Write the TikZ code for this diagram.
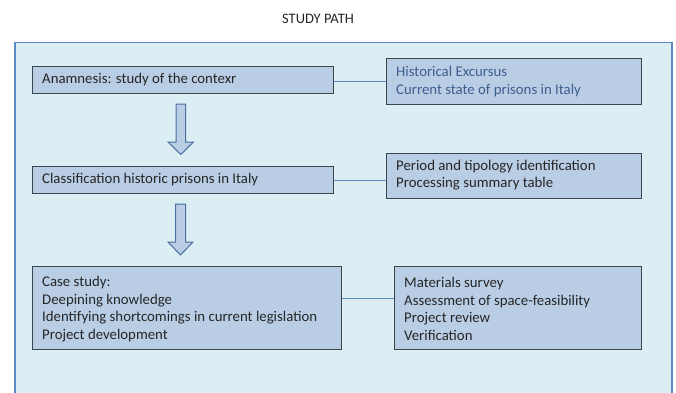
\documentclass[tikz,border=0pt]{standalone}
\usepackage{fontspec}
\setmainfont{Carlito}
\begin{document}
\definecolor{panelfill}{HTML}{DBEEF4}
\definecolor{panelline}{HTML}{5B8AC6}
\definecolor{boxfill}{HTML}{B9CDE5}
\definecolor{boxline}{HTML}{3A4550}
\definecolor{linkline}{HTML}{5B8AC6}
\definecolor{arrowline}{HTML}{4A6E9E}
\definecolor{bluetext}{HTML}{3F5F8F}
\definecolor{darktext}{HTML}{262626}
\begin{tikzpicture}[x=1pt,y=-1pt,
  panel/.style={draw=panelline,fill=panelfill,line width=1.3pt},
  stepbox/.style={draw=boxline,fill=boxfill,line width=1pt},
  link/.style={draw=linkline,line width=0.9pt},
  txt/.style={anchor=west,inner sep=0pt,text=darktext,font=\fontsize{14.8}{17.6}\selectfont},
  blockarrow/.style={draw=arrowline,fill=boxfill,line width=1pt,line join=miter}]
\useasboundingbox (0,0) rectangle (676,392);
\fill[white] (0,0) rectangle (676,392);

% title and panel
\node[inner sep=0pt,text=darktext,font=\fontsize{14.5}{16}\selectfont] (title) at (318,19) {STUDY PATH};
\draw[panel] (15,42.5) rectangle (672,410);

% row 1
\node[stepbox,minimum width=301pt,minimum height=27pt,inner sep=0pt] (a1) at (182.5,79.5) {};
\node[txt] at (42,79.5) {Anamnesis: study of the contexr};
\node[stepbox,minimum width=255pt,minimum height=46pt,inner sep=0pt] (b1) at (514,81) {};
\node[txt,text=bluetext,align=left,font=\fontsize{14.8}{18}\selectfont] at (396,82) {Historical Excursus\\Current state of prisons in Italy};
\draw[link] (a1.east |- 0,81.5) -- (b1.west |- 0,81.5);

% row 2
\node[stepbox,minimum width=301pt,minimum height=27pt,inner sep=0pt] (a2) at (182.5,180) {};
\node[txt] at (42,180) {Classification historic prisons in Italy};
\node[stepbox,minimum width=255pt,minimum height=45pt,inner sep=0pt] (b2) at (514,176) {};
\node[txt,align=left] at (396,175) {Period and tipology identification\\Processing summary table};
\draw[link] (a2.east |- 0,180.5) -- (b2.west |- 0,180.5);

% row 3
\node[stepbox,minimum width=309pt,minimum height=83pt,inner sep=0pt] (a3) at (186.5,308) {};
\node[txt,align=left] at (42,309) {Case study:\\Deepining knowledge\\Identifying shortcomings in current legislation\\Project development};
\node[stepbox,minimum width=247pt,minimum height=83pt,inner sep=0pt] (b3) at (518,308) {};
\node[txt,align=left] at (404,309) {Materials survey\\Assessment of space-feasibility\\Project review\\Verification};
\draw[link] (a3.east |- 0,298.5) -- (b3.west |- 0,298.5);

% block arrows between the steps
\draw[blockarrow] (176,104) -- (185.5,104) -- (185.5,142) -- (193.5,142) -- (180.75,154.5)
  -- (168,142) -- (176,142) -- cycle;
\draw[blockarrow] (175.5,204) -- (185.5,204) -- (185.5,242) -- (193,242) -- (180.5,255)
  -- (168,242) -- (175.5,242) -- cycle;
\end{tikzpicture}
\end{document}
